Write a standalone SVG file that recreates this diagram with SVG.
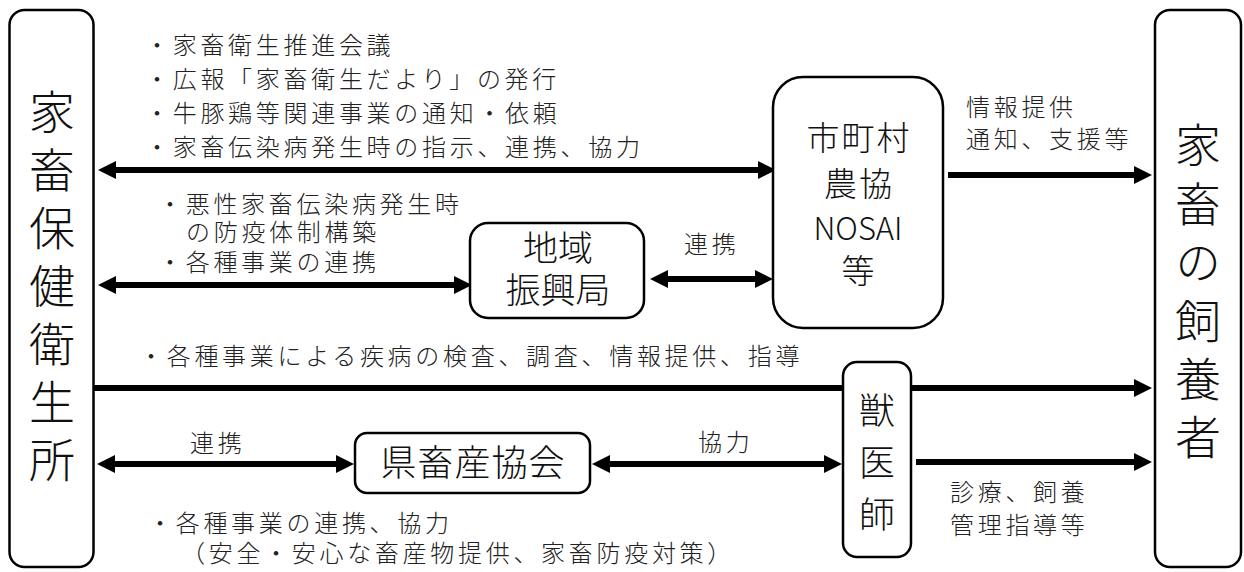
<svg xmlns="http://www.w3.org/2000/svg" width="1244" height="572" viewBox="0 0 1244 572">
<defs>
<marker id="ah" markerUnits="userSpaceOnUse" markerWidth="18" markerHeight="18" viewBox="0 0 18 18" refX="8" refY="9" orient="auto-start-reverse">
<path d="M0,0 L18,9 L0,18 z" fill="#000"/>
</marker>
<style>
.box{fill:#fff;stroke:#000;stroke-width:2.5}
.ln{stroke:#000;stroke-width:6;fill:none}
.t{font-family:"Noto Sans CJK JP","Noto Sans",sans-serif;font-size:24px;font-weight:300;letter-spacing:3.7px;fill:#222}
.b{font-family:"Noto Sans CJK JP","Noto Sans",sans-serif;font-weight:300;fill:#111;text-anchor:middle}
.vt{font-family:"Noto Sans CJK JP","Noto Sans",sans-serif;font-weight:300;fill:#111;writing-mode:vertical-rl}
</style>
</defs>
<rect width="1244" height="572" fill="#fff"/>
<g id="connectors">
<line class="ln" x1="108" y1="170" x2="766" y2="170" marker-start="url(#ah)" marker-end="url(#ah)"/>
<line class="ln" x1="108" y1="285" x2="462" y2="285" marker-start="url(#ah)" marker-end="url(#ah)"/>
<line class="ln" x1="660" y1="279" x2="763" y2="279" marker-start="url(#ah)" marker-end="url(#ah)"/>
<line class="ln" x1="948" y1="175" x2="1142" y2="175" marker-end="url(#ah)"/>
<line class="ln" x1="94" y1="388" x2="1142" y2="388" marker-end="url(#ah)"/>
<line class="ln" x1="107" y1="464" x2="344" y2="464" marker-start="url(#ah)" marker-end="url(#ah)"/>
<line class="ln" x1="602" y1="464" x2="832" y2="464" marker-start="url(#ah)" marker-end="url(#ah)"/>
<line class="ln" x1="916" y1="462" x2="1142" y2="462" marker-end="url(#ah)"/>
</g>
<g id="labels">
<text class="t"><tspan x="145" y="54">・家畜衛生推進会議</tspan><tspan x="145" y="88">・広報「家畜衛生だより」の発行</tspan><tspan x="145" y="122">・牛豚鶏等関連事業の通知・依頼</tspan><tspan x="145" y="156">・家畜伝染病発生時の指示、連携、協力</tspan></text>
<text class="t"><tspan x="158" y="213">・悪性家畜伝染病発生時</tspan><tspan x="186" y="241">の防疫体制構築</tspan><tspan x="158" y="271">・各種事業の連携</tspan></text>
<text class="t" x="684" y="253">連携</text>
<text class="t"><tspan x="966" y="116">情報提供</tspan><tspan x="966" y="148">通知、支援等</tspan></text>
<text class="t" x="139" y="365">・各種事業による疾病の検査、調査、情報提供、指導</text>
<text class="t" x="190" y="452">連携</text>
<text class="t" x="698" y="451">協力</text>
<text class="t"><tspan x="950" y="501">診療、飼養</tspan><tspan x="950" y="534">管理指導等</tspan></text>
<text class="t"><tspan x="148" y="532">・各種事業の連携、協力</tspan><tspan x="181" y="562">（安全・安心な畜産物提供、家畜防疫対策）</tspan></text>
</g>
<g id="node-hoken">
<rect class="box" x="9.5" y="10" width="84" height="557" rx="15"/>
<text class="vt" x="52" y="89" font-size="46" letter-spacing="12">家畜保健衛生所</text>
</g>
<g id="node-shiyosha">
<rect class="box" x="1155" y="10" width="86" height="557" rx="15"/>
<text class="vt" x="1198" y="122" font-size="46" letter-spacing="12.4">家畜の飼養者</text>
</g>
<g id="node-shichoson">
<rect class="box" x="773" y="77" width="170" height="251" rx="30"/>
<text class="b" font-size="33"><tspan x="859" y="150" letter-spacing="2">市町村</tspan><tspan x="859" y="196" letter-spacing="2">農協</tspan><tspan x="858" y="240" font-size="31">NOSAI</tspan><tspan x="858" y="283">等</tspan></text>
</g>
<g id="node-chiiki">
<rect class="box" x="470" y="223" width="174" height="95" rx="18"/>
<text class="b" font-size="35"><tspan x="558" y="261">地域</tspan><tspan x="558" y="303">振興局</tspan></text>
</g>
<g id="node-kenchikusan">
<rect class="box" x="355" y="433" width="235" height="60" rx="12"/>
<text class="b" x="473" y="476" font-size="36" letter-spacing="1">県畜産協会</text>
</g>
<g id="node-juishi">
<rect class="box" x="843" y="362" width="68" height="195" rx="14"/>
<text class="vt" x="877" y="392" font-size="36" letter-spacing="16">獣医師</text>
</g>
</svg>
